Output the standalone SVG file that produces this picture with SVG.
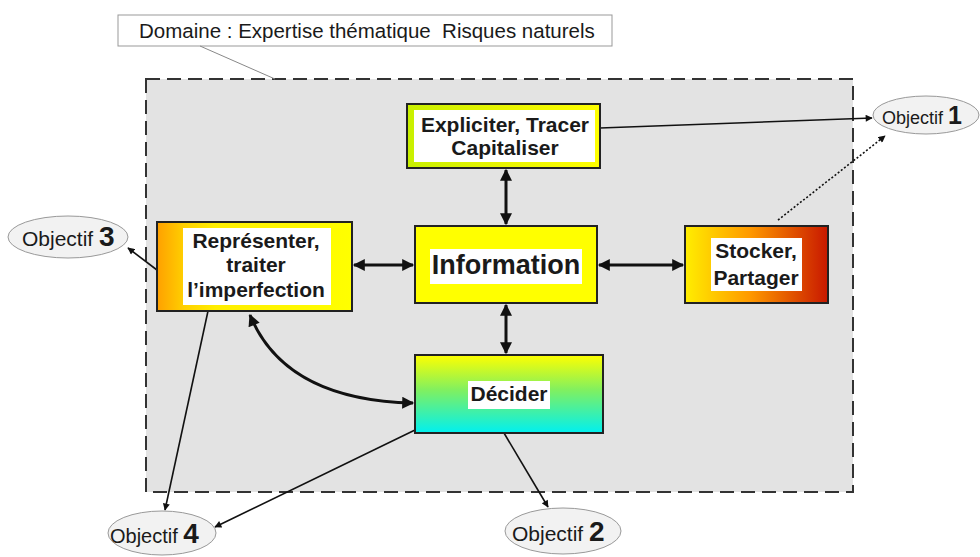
<svg xmlns="http://www.w3.org/2000/svg" width="980" height="557" viewBox="0 0 980 557">
<style>
.t{font-family:"Liberation Sans",Arial,sans-serif;fill:#1a1a1a}
.b{font-weight:bold;text-anchor:middle}
.box{stroke:#222;stroke-width:2}
.ell{fill:#f2f2f2;stroke:#999;stroke-width:1}
.c{fill:none;stroke:#111;stroke-width:1.6}
.c2{fill:none;stroke:#111;stroke-width:3}
.d{font-weight:bold;font-size:28px}
</style>
<defs>
<marker id="ah" viewBox="0 0 10 10" refX="9" refY="5" markerWidth="8" markerHeight="7" orient="auto-start-reverse" markerUnits="userSpaceOnUse"><path d="M0,0 L10,5 L0,10 z" fill="#111"/></marker>
<marker id="ahb" viewBox="0 0 10 10" refX="9" refY="5" markerWidth="14" markerHeight="12" orient="auto-start-reverse" markerUnits="userSpaceOnUse"><path d="M0,0 L10,5 L0,10 z" fill="#111"/></marker>
<linearGradient id="gExp" x1="0" y1="0" x2="1" y2="0"><stop offset="0" stop-color="#c8f000"/><stop offset="0.5" stop-color="#e8f400"/><stop offset="1" stop-color="#ffff00"/></linearGradient>
<linearGradient id="gRep" x1="0" y1="0" x2="1" y2="0"><stop offset="0" stop-color="#ffa000"/><stop offset="0.14" stop-color="#ffd000"/><stop offset="0.3" stop-color="#ffee00"/><stop offset="1" stop-color="#ffff00"/></linearGradient>
<linearGradient id="gSto" x1="0" y1="0" x2="1" y2="0"><stop offset="0" stop-color="#ffee00"/><stop offset="0.45" stop-color="#ff9a00"/><stop offset="1" stop-color="#c81800"/></linearGradient>
<linearGradient id="gDec" x1="0" y1="0" x2="0" y2="1"><stop offset="0" stop-color="#ffff00"/><stop offset="0.45" stop-color="#80f060"/><stop offset="1" stop-color="#00f0f0"/></linearGradient>
</defs>
<rect width="980" height="557" fill="#ffffff"/>

<g id="domain">
<rect x="146" y="79" width="707" height="413" fill="#e3e3e3" stroke="#333" stroke-width="2" stroke-dasharray="14,7"/>
<rect x="118" y="15" width="494" height="31" fill="#fff" stroke="#999" stroke-width="1"/>
<text class="t" x="139" y="38" font-size="20.5">Domaine : Expertise thématique&#160; Risques naturels</text>
<line x1="200" y1="46" x2="275" y2="79" stroke="#888" stroke-width="1"/>
</g>

<g id="connectors">
<line class="c" x1="600" y1="128" x2="872" y2="118" marker-end="url(#ah)"/>
<line class="c" x1="778" y1="220" x2="885" y2="136" stroke-dasharray="2,2" stroke-width="1" stroke="#666" marker-end="url(#ah)"/>
<line class="c2" x1="506" y1="170" x2="506" y2="224" marker-start="url(#ahb)" marker-end="url(#ahb)"/>
<line class="c2" x1="506" y1="305" x2="506" y2="353" marker-start="url(#ahb)" marker-end="url(#ahb)"/>
<line class="c2" x1="354" y1="265" x2="413" y2="265" marker-start="url(#ahb)" marker-end="url(#ahb)"/>
<line class="c2" x1="599" y1="265" x2="683" y2="265" marker-start="url(#ahb)" marker-end="url(#ahb)"/>
<path class="c2" d="M250,315 Q285,400 413,403" marker-start="url(#ahb)" marker-end="url(#ahb)"/>
<line class="c" x1="157" y1="270" x2="128" y2="248" marker-end="url(#ah)"/>
<line class="c" x1="208" y1="311" x2="165" y2="510" marker-end="url(#ah)"/>
<line class="c" x1="415" y1="430" x2="215" y2="527" marker-end="url(#ah)"/>
<line class="c" x1="504" y1="433" x2="548" y2="507" marker-end="url(#ah)"/>
</g>

<g id="n-expliciter">
<rect class="box" x="407" y="104" width="193" height="64" fill="url(#gExp)"/>
<rect x="414" y="110" width="181" height="52" fill="#fff"/>
<text class="t b" x="505" y="132" font-size="21">Expliciter, Tracer</text>
<text class="t b" x="505" y="155" font-size="21">Capitaliser</text>
</g>

<g id="n-representer">
<rect class="box" x="157" y="222" width="195" height="89" fill="url(#gRep)"/>
<rect x="183" y="228" width="148" height="77" fill="#fff"/>
<text class="t b" x="256" y="248" font-size="21">Représenter,</text>
<text class="t b" x="256" y="272" font-size="21">traiter</text>
<text class="t b" x="256" y="297" font-size="21">l’imperfection</text>
</g>

<g id="n-information">
<rect class="box" x="415" y="226" width="182" height="77" fill="#ffff00"/>
<rect x="430" y="249" width="152" height="35" fill="#fff"/>
<text class="t b" x="506" y="274" font-size="27">Information</text>
</g>

<g id="n-stocker">
<rect class="box" x="685" y="226" width="143" height="77" fill="url(#gSto)"/>
<rect x="711" y="238" width="91" height="53" fill="#fff"/>
<text class="t b" x="756" y="258" font-size="21">Stocker,</text>
<text class="t b" x="756" y="285" font-size="21">Partager</text>
</g>

<g id="n-decider">
<rect class="box" x="415" y="355" width="188" height="78" fill="url(#gDec)"/>
<rect x="468" y="381" width="82" height="28" fill="#fff"/>
<text class="t b" x="509" y="401" font-size="21">Décider</text>
</g>

<g id="o1">
<ellipse class="ell" cx="926" cy="115" rx="53" ry="19"/>
<text class="t" x="882" y="124" font-size="18">Objectif <tspan font-weight="bold" font-size="25">1</tspan></text>
</g>
<g id="o3">
<ellipse class="ell" cx="68" cy="237" rx="60" ry="21"/>
<text class="t" x="22" y="246" font-size="21">Objectif <tspan class="d">3</tspan></text>
</g>
<g id="o4">
<ellipse class="ell" cx="162" cy="533" rx="54" ry="22"/>
<text class="t" x="110" y="543" font-size="20">Objectif <tspan class="d">4</tspan></text>
</g>
<g id="o2">
<ellipse class="ell" cx="563" cy="531" rx="58" ry="23"/>
<text class="t" x="512" y="541" font-size="21">Objectif <tspan class="d">2</tspan></text>
</g>
</svg>
